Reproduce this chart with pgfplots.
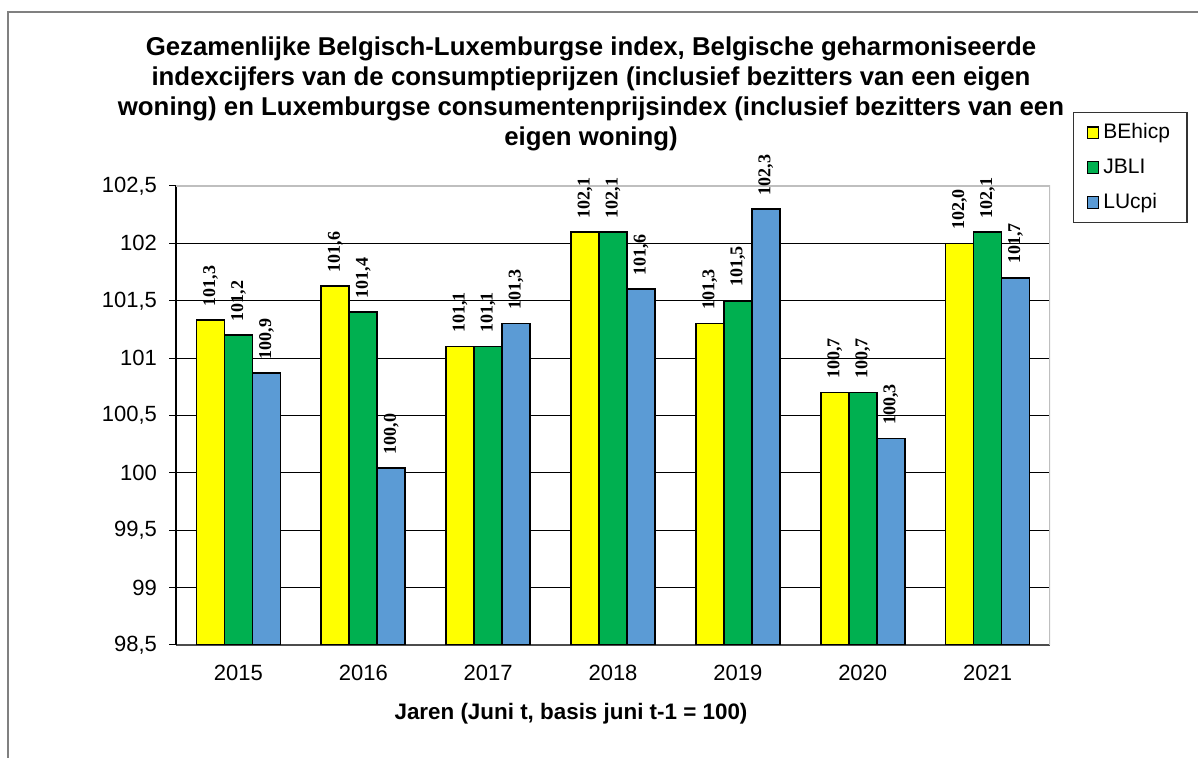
\documentclass[border=0pt]{standalone}
\usepackage{fontspec}
\setmainfont{Liberation Sans}
\newfontfamily\timesf{Liberation Serif}
\usepackage{pgfplots}
\usepackage{pgfplotstable}
\pgfplotsset{compat=1.18}
\definecolor{beyel}{HTML}{FFFF00}
\definecolor{jbgreen}{HTML}{00B050}
\definecolor{lublue}{HTML}{5B9BD5}
\pgfplotstableread{
x y lab
0 101.33 101,3
1 101.63 101,6
2 101.10 101,1
3 102.10 102,1
4 101.30 101,3
5 100.70 100,7
6 102.00 102,0
}\BE
\pgfplotstableread{
x y lab
0 101.20 101,2
1 101.40 101,4
2 101.10 101,1
3 102.10 102,1
4 101.50 101,5
5 100.70 100,7
6 102.10 102,1
}\JB
\pgfplotstableread{
x y lab
0 100.87 100,9
1 100.04 100,0
2 101.30 101,3
3 101.60 101,6
4 102.30 102,3
5 100.30 100,3
6 101.70 101,7
}\LU
\begin{document}
\begin{tikzpicture}
\path[use as bounding box] (0,0) rectangle (599pt,379pt);
\draw[gray, line width=0.6pt] (4pt,0) -- (4pt,373pt) -- (599pt,373pt);
\node[align=center, font=\bfseries\fontsize{12.9}{15}\selectfont] at (295.5pt,332pt)
{Gezamenlijke Belgisch-Luxemburgse index, Belgische geharmoniseerde\\
indexcijfers van de consumptieprijzen (inclusief bezitters van een eigen\\
woning) en Luxemburgse consumentenprijsindex (inclusief bezitters van een\\
eigen woning)};
\node[font=\bfseries\fontsize{11.2}{13}\selectfont] at (285.5pt,22pt) {Jaren (Juni t, basis juni t-1 = 100)};
\begin{axis}[
  at={(88pt,56.5pt)}, anchor=south west,
  scale only axis, width=437pt, height=229.5pt,
  ybar=0pt, bar width=14pt,
  xmin=-0.5, xmax=6.5, ymin=98.5, ymax=102.5,
  ytick distance=0.5,
  xtick={0,...,6},
  xticklabels={2015,2016,2017,2018,2019,2020,2021},
  major x tick style={draw=none},
  extra x ticks={-0.5,0.5,1.5,2.5,3.5,4.5,5.5,6.5},
  extra x tick labels={},
  extra x tick style={major tick length=3pt, tick style={draw=black!70, line width=0.5pt}, grid=none},
  tick align=outside,
  major tick length=3.5pt,
  ytick style={draw=black, line width=0.5pt},
  axis x line*=bottom, axis y line*=left,
  x axis line style={draw=black!70, line width=0.6pt, -},
  y axis line style={draw=black, line width=0.6pt, -},
  ymajorgrids, grid style={black, line width=0.5pt},
  /pgf/number format/use comma,
  /pgf/number format/assume math mode=true,
  tick label style={font=\fontsize{11}{13}\selectfont},
  xticklabel style={yshift=-3pt},
  yticklabel style={xshift=-2.5pt},
  point meta=explicit symbolic,
  nodes near coords,
  every node near coord/.append style={rotate=90, anchor=west, inner sep=0pt, inner xsep=6.5pt, font=\timesf\bfseries\fontsize{9}{10}\selectfont, black},
  legend style={at={(1.0263,1.161)}, anchor=north west, draw=black!80, line width=0.6pt,
    font=\fontsize{10.5}{12}\selectfont, row sep=4.5pt, inner xsep=6.5pt, inner ysep=3.5pt,
    legend cell align=left, nodes={inner sep=2pt}},
  legend image code/.code={\draw[#1, line width=0.6pt] (0pt,-2.9pt) rectangle (5.8pt,2.9pt);},
]
\addplot[fill=beyel, draw=black, line width=0.8pt] table[x=x,y=y,meta=lab]{\BE};
\addplot[fill=jbgreen, draw=black, line width=0.8pt] table[x=x,y=y,meta=lab]{\JB};
\addplot[fill=lublue, draw=black, line width=0.8pt] table[x=x,y=y,meta=lab]{\LU};
\legend{BEhicp\hspace{1pt},JBLI,LUcpi}
\draw[black!25, line width=0.8pt] (rel axis cs:0,1) -- (rel axis cs:1,1) -- (rel axis cs:1,0);
\end{axis}
\end{tikzpicture}
\end{document}
